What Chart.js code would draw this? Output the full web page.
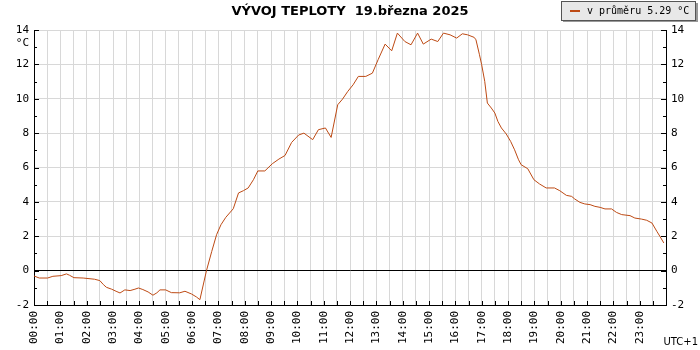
<!DOCTYPE html>
<html>
<head>
<meta charset="utf-8">
<script src="https://cdn.jsdelivr.net/npm/chart.js@4.4.1/dist/chart.umd.min.js"></script>
<style>
  body { margin: 0; background: #fff; }
</style>
</head>
<body>
<canvas id="chartCanvas" width="700" height="350"></canvas>
<script>
// hodnoty (čas, teplota °C)
const times = ['00:00','00:12','00:31','00:43','01:02','01:14','01:21','01:31','01:52','02:18',
  '02:30','02:38','02:45','02:57','03:07','03:16','03:27','03:39','03:50','03:58',
  '04:08','04:20','04:31','04:40','04:47','05:00','05:13','05:32','05:44','05:59',
  '06:10','06:18','06:33','06:45','06:56','07:06','07:17','07:34','07:46','07:57',
  '08:08','08:20','08:30','08:46','09:03','09:18','09:32','09:47','10:03','10:15',
  '10:35','10:48','11:04','11:17','11:32','11:43','11:55','12:07','12:19','12:36',
  '12:51','13:04','13:20','13:35','13:48','14:05','14:19','14:34','14:47','15:05',
  '15:20','15:33','15:48','16:03','16:16','16:28','16:43','16:47','16:55','17:00',
  '17:07','17:13','17:22','17:30','17:37','17:45','17:56','18:06','18:15','18:24',
  '18:30','18:45','18:59','19:12','19:27','19:46','19:58','20:13','20:25','20:32',
  '20:44','20:55','21:07','21:18','21:30','21:41','21:56','22:07','22:19','22:38',
  '22:49','23:04','23:16','23:28','23:39','23:46','23:55'];
const temps = [-0.31,-0.43,-0.43,-0.33,-0.29,-0.19,-0.27,-0.41,-0.43,-0.50,
  -0.58,-0.81,-0.97,-1.08,-1.20,-1.30,-1.12,-1.16,-1.08,-1.01,
  -1.10,-1.24,-1.43,-1.29,-1.12,-1.12,-1.28,-1.29,-1.20,-1.36,
  -1.53,-1.69,0.00,1.12,2.09,2.67,3.10,3.60,4.52,4.65,
  4.81,5.29,5.80,5.80,6.22,6.49,6.70,7.46,7.89,8.00,
  7.62,8.20,8.30,7.75,9.65,9.98,10.43,10.81,11.30,11.30,
  11.49,12.27,13.18,12.79,13.82,13.33,13.14,13.82,13.18,13.47,
  13.33,13.82,13.72,13.53,13.78,13.72,13.57,13.43,12.56,11.98,
  11.01,9.75,9.46,9.17,8.68,8.30,7.95,7.52,7.03,6.45,
  6.16,5.93,5.29,5.04,4.81,4.81,4.65,4.38,4.32,4.17,
  3.97,3.88,3.84,3.74,3.68,3.59,3.59,3.39,3.26,3.20,
  3.06,3.00,2.93,2.77,2.29,2.00,1.61];
const seriesLabel = 'v průměru 5.29 °C';
const titleText = 'VÝVOJ TEPLOTY  19.března 2025';
const yMin = -2, yMax = 14;

const lineColor = '#bd4a14';
const gridColor = '#d8d8d8';
const monoFont = { family: 'DejaVu Sans Mono', size: 11 };

function toMin(s) {
    const p = s.split(':');
    return (+p[0]) * 60 + (+p[1]);
}
function fmt(m) {
    const h = Math.floor(m / 60);
    return (h < 10 ? '0' : '') + h + ':00';
}

// vlastní kreslení: titulek, legenda, jednotky, značky na osách
const decor = {
    id: 'decor',
    afterDraw(chart) {
        const c = chart.ctx;
        const x = chart.scales.x, y = chart.scales.y;
        const a = chart.chartArea;
        c.save();
        c.strokeStyle = '#000';
        c.lineWidth = 1;
        c.beginPath();
        for (let v = 0; v <= 1440; v += 30) {
            const px = Math.round(x.getPixelForValue(v)) + 0.5;
            c.moveTo(px, a.bottom);
            c.lineTo(px, a.bottom - 4);
        }
        for (let v = yMin; v <= yMax; v++) {
            const py = Math.round(y.getPixelForValue(v)) + 0.5;
            const len = v % 2 === 0 ? 5 : 3;
            c.moveTo(a.left, py);
            c.lineTo(a.left + len, py);
            c.moveTo(a.right, py);
            c.lineTo(a.right - len, py);
        }
        c.stroke();

        // titulek
        c.fillStyle = '#000';
        c.font = 'bold 13px "DejaVu Sans"';
        c.textAlign = 'center';
        c.textBaseline = 'middle';
        c.fillText(titleText, 350, 12);

        // jednotky a časové pásmo
        c.font = '11px "DejaVu Sans Mono"';
        c.textAlign = 'right';
        c.fillText('°C', a.left - 5, y.getPixelForValue(yMax) + 13);
        c.font = '10px "DejaVu Sans"';
        c.fillText('UTC+1', 698, 342);

        // legenda
        c.fillStyle = '#999';
        c.fillRect(563, 3, 135, 19);
        c.fillStyle = '#e8e8e8';
        c.fillRect(561, 1, 134, 19);
        c.strokeStyle = '#555';
        c.strokeRect(561.5, 1.5, 134, 19);
        c.strokeStyle = lineColor;
        c.lineWidth = 2;
        c.beginPath();
        c.moveTo(570, 11);
        c.lineTo(580, 11);
        c.stroke();
        c.fillStyle = '#000';
        c.font = '10px "DejaVu Sans Mono"';
        c.textAlign = 'left';
        c.fillText(seriesLabel, 587, 11);
        c.restore();
    }
};

const ctx = document.getElementById('chartCanvas').getContext('2d');
const chart = new Chart(ctx, {
    type: 'line',
    data: {
        datasets: [{
            label: seriesLabel,
            data: times.map((t, i) => ({ x: toMin(t), y: temps[i] })),
            borderColor: lineColor,
            borderWidth: 1,
            pointRadius: 0,
            tension: 0,
            fill: false
        }]
    },
    options: {
        responsive: false,
        animation: false,
        layout: { padding: { top: 30 } },
        plugins: {
            legend: { display: false },
            title: { display: false },
            tooltip: { enabled: false }
        },
        scales: {
            x: {
                type: 'linear',
                min: 0,
                max: 1440,
                afterFit: s => { s.height = 45; },
                grid: { color: gridColor, drawTicks: false },
                border: { color: '#000' },
                ticks: {
                    stepSize: 30,
                    maxTicksLimit: 100,
                    autoSkip: false,
                    minRotation: 90,
                    maxRotation: 90,
                    padding: 6,
                    color: '#000',
                    font: monoFont,
                    callback: v => (v % 60 === 0 && v < 1440) ? fmt(v) : ''
                }
            },
            y: {
                position: 'left',
                min: yMin,
                max: yMax,
                afterFit: s => { s.width = 34; },
                grid: {
                    drawTicks: false,
                    color: c => c.tick.value === 0 ? '#000' : (c.tick.value % 2 === 0 ? gridColor : 'rgba(0,0,0,0)')
                },
                border: { color: '#000' },
                ticks: {
                    stepSize: 1,
                    padding: 5,
                    color: '#000',
                    font: monoFont,
                    callback: v => v % 2 === 0 ? v : ''
                }
            },
            y2: {
                position: 'right',
                min: yMin,
                max: yMax,
                afterFit: s => { s.width = 34; },
                grid: { display: false, drawTicks: false },
                border: { color: '#000' },
                ticks: {
                    stepSize: 1,
                    padding: 5,
                    color: '#000',
                    font: monoFont,
                    callback: v => v % 2 === 0 ? v : ''
                }
            }
        }
    },
    plugins: [decor]
});
</script>
</body>
</html>
